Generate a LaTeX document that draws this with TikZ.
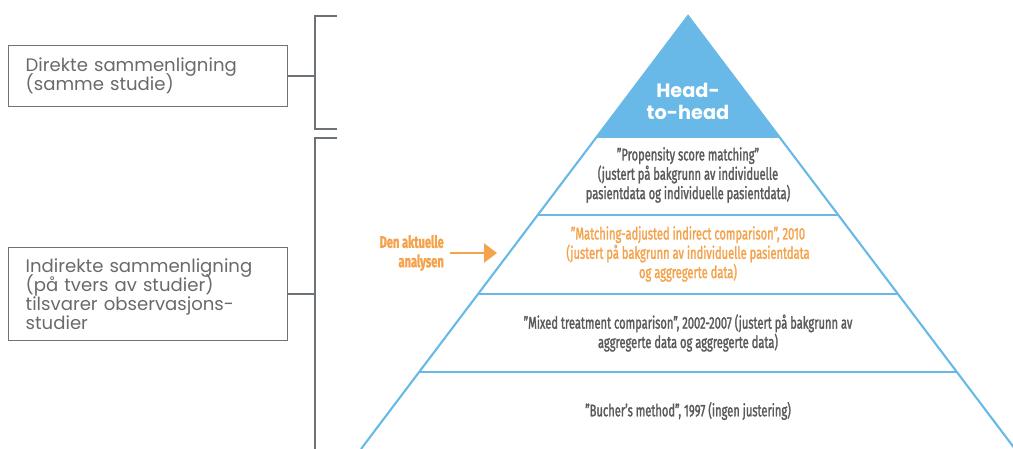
\documentclass[tikz,border=0pt]{standalone}
\usepackage{fontspec}
\setmainfont{Poppins}
\newfontfamily\narrowfont[FakeStretch=0.66,FakeBold=1.5]{Fira Sans}
\usetikzlibrary{arrows.meta,positioning,calc}
\definecolor{pblue}{HTML}{68B9E7}
\definecolor{pgray}{HTML}{58595B}
\definecolor{porange}{HTML}{F4A24B}
\definecolor{pline}{HTML}{6C7278}
\newcommand{\boxfont}{\fontsize{10.3}{10.9}\selectfont\lineskiplimit=-10pt\relax}
\tikzset{
  sidebox/.style={draw=pgray!85,line width=0.8pt,anchor=north west,align=left,text=pgray!90,
    font=\boxfont,inner xsep=0.34cm,text width=4.9cm},
  layer/.style={align=center,text=pgray,font=\narrowfont\fontsize{9.6}{11}\selectfont},
  edge/.style={draw=pblue,line width=1.2pt},
  brace/.style={draw=pline,line width=0.8pt},
  oarr/.style={-{Triangle[length=0.26cm,width=0.38cm]},line width=1.4pt,draw=porange},
}

\begin{document}
\begin{tikzpicture}[x=0.02cm,y=-0.02cm]
  \useasboundingbox (0,0) rectangle (1013,449);
  % venstre bokser
  \node[sidebox,minimum height=1.22cm] (direct) at (8,45) {Direkte sammenligning\\(samme studie)};
  \node[sidebox,minimum height=1.86cm] (indirect) at (8,247) {Indirekte sammenligning\\(på tvers av studier)\\tilsvarer observasjons-\\studier};
  % klammer
  \coordinate (bone) at (315,16); \coordinate (btwo) at (315,138);
  \draw[brace] (337,16) -- (bone) -- (315,129) -- (337,129);
  \draw[brace] (337,138) -- (btwo) -- (315,449);
  \draw[brace] (direct.east) -- (direct.east -| bone);
  \draw[brace] (indirect.east) -- (indirect.east -| btwo);
  % pyramide
  \fill[pblue] (688,16) -- (597,137) -- (779,137) -- cycle;
  \draw[edge] (361,449) -- (688,16) -- (1015,449);
  \draw[edge] (597,137) -- (779,137) (538,215) -- (838,215)
    (478,294) -- (898,294) (419,372) -- (957,372);
  \node[align=center,text=white,font=\bfseries\fontsize{11}{12.5}\selectfont] (h2h) at (688,101) {Head-\\to-head};
  \node[layer] (psm) at (688,175) {”Propensity score matching”\\(justert på bakgrunn av individuelle\\pasientdata og individuelle pasientdata)};
  \node[layer,text=porange] (maic) at (688,254) {”Matching-adjusted indirect comparison”, 2010\\(justert på bakgrunn av individuelle pasientdata\\og aggregerte data)};
  \node[layer] (mtc) at (688,333) {”Mixed treatment comparison”, 2002-2007 (justert på bakgrunn av\\aggregerte data og aggregerte data)};
  \node[layer] (bucher) at (688,411) {”Bucher’s method”, 1997 (ingen justering)};
  % pil
  \node[layer,text=porange,font=\narrowfont\bfseries\fontsize{9.6}{11}\selectfont,align=right,anchor=east] (current) at (450,253) {Den aktuelle\\analysen};
  \coordinate (arrowtip) at (497,253);
  \draw[oarr] (current.east) -- (arrowtip);
\end{tikzpicture}
\end{document}
